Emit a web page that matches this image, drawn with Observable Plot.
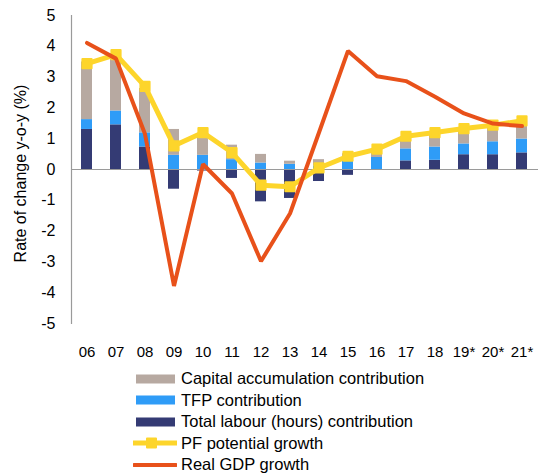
<!DOCTYPE html>
<html>
<head>
<meta charset="utf-8">
<script src="https://cdn.jsdelivr.net/npm/d3@7"></script>
<script src="https://cdn.jsdelivr.net/npm/@observablehq/plot@0.6"></script>
<style>
  body { margin: 0; background: #fff; font-family: "Liberation Sans", Arial, sans-serif; }
  #wrap { width: 538px; }
  #legend { margin-top: -2px; font-size: 16.5px; color: #000; }
  .row { display: flex; align-items: center; height: 21.5px; }
  .row svg { margin-left: 133px; margin-right: 4px; flex: none; }
</style>
</head>
<body>
<div id="wrap"></div>
<script>
const years = ["06","07","08","09","10","11","12","13","14","15","16","17","18","19*","20*","21*"];
const capital = [1.87, 1.76, 1.44, 0.84, 0.71, 0.47, 0.28, 0.10, 0.20, 0.10, 0.18, 0.39, 0.38, 0.45, 0.48, 0.45];
const tfp     = [0.32, 0.45, 0.46, 0.46, 0.46, 0.32, 0.21, 0.17, 0.12, 0.41, 0.39, 0.39, 0.43, 0.35, 0.42, 0.45];
const labour  = [1.30, 1.45, 0.73, -0.64, -0.05, -0.29, -1.05, -0.94, -0.39, -0.19, 0.00, 0.28, 0.30, 0.48, 0.48, 0.54];
const pfPotential = [3.44, 3.73, 2.70, 0.77, 1.20, 0.55, -0.51, -0.56, 0.05, 0.43, 0.66, 1.08, 1.20, 1.33, 1.44, 1.58];
const realGdp     = [4.11, 3.60, 1.15, -3.78, 0.17, -0.78, -2.98, -1.43, 1.20, 3.85, 3.03, 2.87, 2.36, 1.82, 1.49, 1.41];
const yTicks = [-5,-4,-3,-2,-1,0,1,2,3,4,5];

const seriesNames = ["Capital accumulation contribution", "TFP contribution", "Total labour (hours) contribution", "PF potential growth", "Real GDP growth"];
const colors = ["#B7A9A1", "#2F9CF7", "#343B74", "#FDD52B", "#E8511A"];

const bars = [];
years.forEach((yr, i) => {
  bars.push({year: yr, series: seriesNames[2], value: labour[i]});
  bars.push({year: yr, series: seriesNames[1], value: tfp[i]});
  bars.push({year: yr, series: seriesNames[0], value: capital[i]});
});
const lines = years.map((yr, i) => ({year: yr, pf: pfPotential[i], gdp: realGdp[i]}));

const chart = Plot.plot({
  width: 538,
  height: 370,
  marginTop: 15,
  marginBottom: 47,
  marginLeft: 71,
  marginRight: 0,
  style: {fontFamily: '"Liberation Sans", Arial, sans-serif', color: "#000", background: "#fff"},
  x: {domain: years, paddingInner: 0.62, paddingOuter: 0.31, align: 0.5, label: null},
  y: {domain: [-5, 5], label: null},
  color: {domain: seriesNames.slice(0, 3), range: colors.slice(0, 3)},
  marks: [
    Plot.barY(bars, {x: "year", y: "value", fill: "series", z: "series",
      order: [seriesNames[2], seriesNames[1], seriesNames[0]], inset: 0}),
    Plot.ruleY([0], {stroke: "#9a9a9a", strokeWidth: 1.2}),
    Plot.frame({anchor: "left", stroke: "#9a9a9a", strokeWidth: 1.2}),
    Plot.axisY({ticks: yTicks, tickSize: 0, tickPadding: 16, fontSize: 16, label: null, tickFormat: d => String(d).replace("−", "-")}),
    Plot.axisX({tickSize: 0, tickPadding: 23, fontSize: 15, label: null}),
    Plot.text(["Rate of change y-o-y (%)"], {frameAnchor: "left", textAnchor: "middle", lineAnchor: "middle", rotate: -90, dx: -51, dy: 4, fontSize: 16, fill: "#000"}),
    Plot.line(lines, {x: "year", y: "pf", stroke: colors[3], strokeWidth: 5, strokeLinejoin: "round"}),
    Plot.dot(lines, {x: "year", y: "pf", symbol: "square", r: 5.2, fill: colors[3], stroke: colors[3], strokeWidth: 2, strokeLinejoin: "round"}),
    Plot.line(lines, {x: "year", y: "gdp", stroke: colors[4], strokeWidth: 4, strokeLinejoin: "miter"})
  ]
});
chart.querySelectorAll("text").forEach(t => { if (t.textContent.startsWith("−")) t.textContent = t.textContent.replace("−", "-"); });
document.getElementById("wrap").appendChild(chart);

// legend
const legend = document.createElement("div");
legend.id = "legend";
seriesNames.forEach((name, i) => {
  const row = document.createElement("div");
  row.className = "row";
  let sw;
  if (i < 3) {
    sw = `<svg width="44" height="12"><rect x="3" y="1.5" width="39" height="9" fill="${colors[i]}"/></svg>`;
  } else if (i === 3) {
    sw = `<svg width="44" height="12"><line x1="0" x2="44" y1="6" y2="6" stroke="${colors[i]}" stroke-width="5" stroke-linecap="round"/><rect x="14" y="1.5" width="9" height="9" fill="${colors[i]}" stroke="${colors[i]}" stroke-width="2" stroke-linejoin="round"/></svg>`;
  } else {
    sw = `<svg width="44" height="12"><line x1="1" x2="43" y1="6" y2="6" stroke="${colors[i]}" stroke-width="4" stroke-linecap="round"/></svg>`;
  }
  row.innerHTML = sw + `<span>${name}</span>`;
  legend.appendChild(row);
});
document.getElementById("wrap").appendChild(legend);
</script>
</body>
</html>
